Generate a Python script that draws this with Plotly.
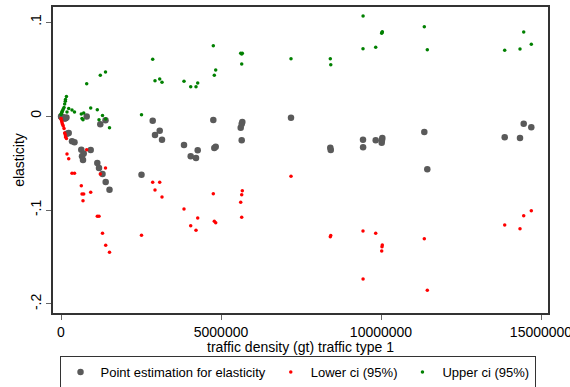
import plotly.graph_objects as go

# traffic density (gt), point estimate, lower and upper 95% ci
traffic = [2000, 10000, 25000, 35000, 50000, 70000, 95000, 115000, 140000, 135000, 170000,
           187500, 240600, 343750, 421900, 634400, 709400, 656250, 687500, 803100,
           928100, 1134400, 1187500, 1228100, 1296900, 1390600, 1396900, 1515600, 2515600, 2865600,
           2937500, 3084400, 3156250, 3843750, 4053100, 4218750, 4271900, 4759400, 4790600, 4834400,
           5615600, 5665600, 5646900, 5646900, 7187500, 8415600, 8430000, 9437500, 9440000, 9834400,
           10040600, 10021900, 10031250, 11353100, 11446900, 13865600, 14343750, 14459400, 14696900]

point_est = [-0.0005, -0.0009, -0.0011, -0.0014, -0.0016, -0.0016, -0.0021, -0.0027, -0.0025, -0.0021, -0.0016,
             -0.0188, -0.0181, -0.0269, -0.0280, -0.0359, -0.0399, -0.0429, -0.0468, -0.0005,
             -0.0362, -0.0500, -0.0553, -0.0088, -0.0617, -0.0046, -0.0702, -0.0784, -0.0625, -0.0050,
             -0.0202, -0.0156, -0.0252, -0.0309, -0.0429, -0.0447, -0.0365, -0.0043, -0.0340, -0.0327,
             -0.0125, -0.0064, -0.0085, -0.0259, -0.0018, -0.0337, -0.0362, -0.0252, -0.0333, -0.0259,
             -0.0234, -0.0284, -0.0255, -0.0170, -0.0567, -0.0227, -0.0234, -0.0082, -0.0120]

lower_ci = [-0.0027, -0.0043, -0.0059, -0.0075, -0.0090, -0.0106, -0.0133, -0.0181, -0.0223, -0.0199, -0.0239,
            -0.0404, -0.0454, -0.0610, -0.0610, -0.0742, -0.0830, -0.0830, -0.0901, -0.0359,
            -0.0812, -0.1067, -0.1067, -0.0617, -0.1248, -0.0553, -0.1376, -0.1450, -0.1269, -0.0705,
            -0.0787, -0.0705, -0.0862, -0.0989, -0.1167, -0.1216, -0.1085, -0.0827, -0.1120, -0.1135,
            -0.0918, -0.0795, -0.0837, -0.1078, -0.0642, -0.1284, -0.1271, -0.1223, -0.1734, -0.1248,
            -0.1372, -0.1436, -0.1390, -0.1305, -0.1854, -0.1160, -0.1199, -0.1061, -0.1007]

upper_ci = [0.0016, 0.0027, 0.0037, 0.0048, 0.0059, 0.0075, 0.0090, 0.0128, 0.0176, 0.0156, 0.0207,
            0.0043, 0.0080, 0.0064, 0.0043, 0.0021, 0.0032, -0.0027, -0.0039, 0.0344,
            0.0085, 0.0067, -0.0039, 0.0433, 0.0005, 0.0468, -0.0032, -0.0125, 0.0014, 0.0603,
            0.0376, 0.0394, 0.0359, 0.0369, 0.0312, 0.0312, 0.0351, 0.0748, 0.0433, 0.0489,
            0.0667, 0.0667, 0.0660, 0.0553, 0.0610, 0.0610, 0.0546, 0.0716, 0.1064, 0.0731,
            0.0897, 0.0880, 0.0888, 0.0950, 0.0705, 0.0699, 0.0713, 0.0894, 0.0763]

x_ticks = [0, 5000000, 10000000, 15000000]
x_tick_labels = ["0", "5000000", "10000000", "15000000"]
y_ticks = [0.1, 0, -0.1, -0.2]
y_tick_labels = [".1", "0", "-.1", "-.2"]
x_title = "traffic density (gt) traffic type 1"
y_title = "elasticity"

FONT = "Liberation Sans, Arial, sans-serif"

fig = go.Figure()
fig.add_trace(go.Scatter(x=traffic, y=point_est, mode="markers",
                         name="Point estimation for elasticity",
                         marker=dict(color="#5a5a5a", size=6.5, line=dict(width=0))))
fig.add_trace(go.Scatter(x=traffic, y=lower_ci, mode="markers",
                         name="Lower ci (95%)",
                         marker=dict(color="#ff0000", size=3.5, line=dict(width=0))))
fig.add_trace(go.Scatter(x=traffic, y=upper_ci, mode="markers",
                         name="Upper ci (95%)",
                         marker=dict(color="#008000", size=3.5, line=dict(width=0))))

fig.add_annotation(text=x_title, xref="paper", yref="paper", x=0.5, y=-0.111,
                   xanchor="center", yanchor="middle", showarrow=False,
                   font=dict(family=FONT, size=14, color="black"))

fig.update_layout(
    width=570, height=387,
    margin=dict(l=53, r=22, t=7, b=74, autoexpand=False),
    paper_bgcolor="white", plot_bgcolor="white",
    font=dict(family=FONT, size=14, color="black"),
    showlegend=True,
    legend=dict(orientation="h", xref="paper", yref="paper",
                x=0.494, xanchor="center", y=-0.141, yanchor="top",
                bordercolor="#333333", borderwidth=1, font=dict(size=13),
                itemwidth=30, tracegroupgap=0, bgcolor="white"),
    xaxis=dict(range=[-250000, 15218750], tickvals=x_ticks, ticktext=x_tick_labels,
               showgrid=False, zeroline=False, showline=True, mirror=True,
               linecolor="#333333", linewidth=1.5, ticks="outside", ticklen=5,
               tickcolor="#666666", tickfont=dict(size=14), ticklabeloverflow="allow",
               ticklabelstandoff=0),
    yaxis=dict(range=[-0.2096, 0.116], tickvals=y_ticks, ticktext=y_tick_labels,
               showgrid=False, zeroline=False, showline=True, mirror=True,
               linecolor="#333333", linewidth=1.5, ticks="outside", ticklen=5,
               tickcolor="#666666", tickangle=-90, tickfont=dict(size=14),
               title=dict(text=y_title, standoff=0, font=dict(size=14))),
)

fig.write_html("out.html")
